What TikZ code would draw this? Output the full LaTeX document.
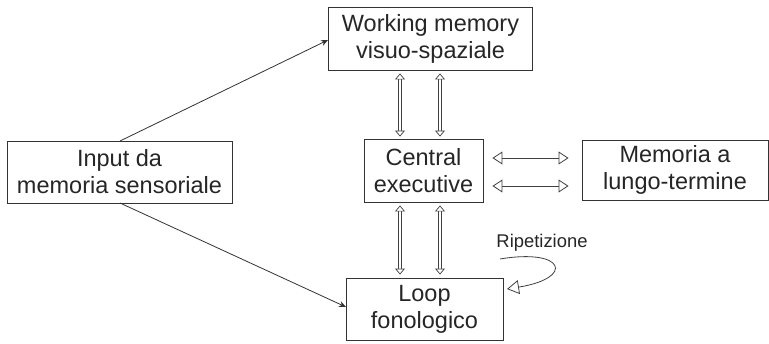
\documentclass[tikz,border=0pt]{standalone}
\usepackage{fontspec}
\setmainfont{Liberation Sans}
\usetikzlibrary{arrows.meta}
\begin{document}
\begin{tikzpicture}[x=1pt,y=-1pt,
  box/.style={draw=black!80,line width=0.9pt,align=center,inner sep=0pt,
    font=\fontsize{23.5}{27}\selectfont,text=black!85},
  thinarrow/.style={draw=black!80,line width=0.8pt,-{Stealth[length=7pt,width=6pt]}},
  dblarrow/.style={draw=black!75,line width=0.7pt,double=white,double distance=2.6pt,
    {Triangle[open,length=6pt,width=10pt,fill=white]}-{Triangle[open,length=6pt,width=10pt,fill=white]}},
  hollowarrow/.style={draw=black!75,line width=0.8pt,
    {Triangle[open,length=10pt,width=13pt]}-{Triangle[open,length=10pt,width=13pt]}}
]
\useasboundingbox[fill=white] (0,0) rectangle (769,343);
\node[box,minimum width=204pt,minimum height=63pt] (wm) at (430.5,38.5) {Working memory\\visuo-spaziale};
\node[box,minimum width=119pt,minimum height=63pt] (ce) at (423.5,170.5) {Central\\executive};
\node[box,minimum width=186pt,minimum height=60pt] (lt) at (675,170) {Memoria a\\lungo-termine};
\node[box,minimum width=225pt,minimum height=62pt] (in) at (119.5,172) {Input da\\memoria sensoriale};
\node[box,minimum width=157pt,minimum height=62pt] (lf) at (424.5,309) {Loop\\fonologico};
\node[font=\fontsize{18.4}{21}\selectfont,text=black!85] (rip) at (542,243) {Ripetizione};

\coordinate (xa) at (400,0);
\coordinate (xb) at (440,0);
\coordinate (ya) at (0,158);
\coordinate (yb) at (0,186);
\coordinate (inT) at (120,141);
\coordinate (inB) at (120,203);
\coordinate (wmL) at (328,40);
\coordinate (lfL) at (346,307);
\coordinate (rs) at (500,259);
\coordinate (re) at (507,289);

\draw[thinarrow] (inT) -- (wmL);
\draw[thinarrow] (inB) -- (lfL);

\draw[dblarrow,shorten <=3pt,shorten >=2pt] (wm.south -| xa) -- (ce.north -| xa);
\draw[dblarrow,shorten <=3pt,shorten >=2pt] (wm.south -| xb) -- (ce.north -| xb);
\draw[dblarrow,shorten <=3pt,shorten >=3pt] (ce.south -| xa) -- (lf.north -| xa);
\draw[dblarrow,shorten <=3pt,shorten >=3pt] (ce.south -| xb) -- (lf.north -| xb);

\draw[hollowarrow,shorten <=9pt,shorten >=13pt] (ce.east |- ya) -- (lt.west |- ya);
\draw[hollowarrow,shorten <=9pt,shorten >=13pt] (ce.east |- yb) -- (lt.west |- yb);

\draw[draw=black!75,line width=0.8pt,-{Triangle[open,length=12pt,width=14pt]}]
  (rs) .. controls (565,248) and (575,278) .. (re);
\end{tikzpicture}
\end{document}
